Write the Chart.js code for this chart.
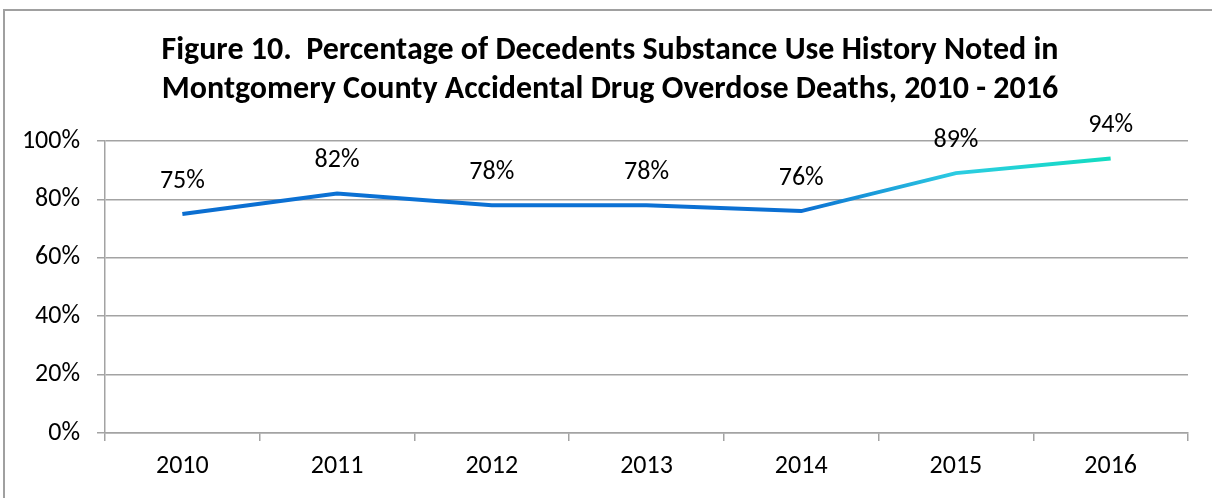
<!DOCTYPE html>
<html>
<head>
<meta charset="utf-8">
<title>Figure 10</title>
<script src="https://cdn.jsdelivr.net/npm/chart.js@4/dist/chart.umd.min.js"></script>
<style>
  html, body { margin: 0; padding: 0; background: #fff; }
  #wrap { position: relative; width: 1212px; height: 498px; overflow: hidden; }
  #frame {
    position: absolute; left: 3px; top: 9px; width: 1260px; height: 540px;
    border-top: 2px solid #a0a0a0; border-left: 2px solid #a0a0a0;
  }
  #chart { position: absolute; left: 0; top: 0; }
</style>
</head>
<body>
<div id="wrap">
  <div id="frame"></div>
  <canvas id="chart" width="1212" height="498"></canvas>
</div>
<script>
// Substance use history noted, by year
const years = ["2010", "2011", "2012", "2013", "2014", "2015", "2016"];
const pctNoted = [75, 82, 78, 78, 76, 89, 94];
const yTicks = [0, 20, 40, 60, 80, 100];

const titleLines = [
  "Figure 10.  Percentage of Decedents Substance Use History Noted in",
  "Montgomery County Accidental Drug Overdose Deaths, 2010 - 2016"
];

// line colour at each year (blue fading into teal at the end)
const lineStops = ["#0b6ed0", "#0b71d4", "#0b71d4", "#0b71d4", "#0b6fd2", "#2ccce2", "#12dcc0"];

const FONT = "Carlito, Lato, 'Open Sans', sans-serif";
const GRID = "#a3a3a3";
const LABEL_SIZE = 26;

function lineGradient(context){
  const chart = context.chart;
  const area = chart.chartArea;
  if(!area) return lineStops[0];
  const xs = chart.scales.x;
  const x0 = xs.getPixelForValue(0);
  const x1 = xs.getPixelForValue(years.length - 1);
  const g = chart.ctx.createLinearGradient(x0, 0, x1, 0);
  lineStops.forEach((c, i)=>{
    g.addColorStop((xs.getPixelForValue(i) - x0) / (x1 - x0), c);
  });
  return g;
}

// two-line title centred over the frame, not over the canvas
const frameTitle = {
  id: "frameTitle",
  beforeDraw(chart){
    const ctx = chart.ctx;
    ctx.save();
    ctx.font = "bold 32px " + FONT;
    ctx.fillStyle = "#000";
    ctx.textAlign = "center";
    ctx.textBaseline = "middle";
    titleLines.forEach((line, i)=>{
      ctx.fillText(line, 610, 51 + i * 39);
    });
    ctx.restore();
  }
};

// value labels above each point
const pointLabels = {
  id: "pointLabels",
  afterDatasetsDraw(chart){
    const ctx = chart.ctx;
    const meta = chart.getDatasetMeta(0);
    ctx.save();
    ctx.font = LABEL_SIZE + "px " + FONT;
    ctx.fillStyle = "#000";
    ctx.textAlign = "center";
    ctx.textBaseline = "middle";
    meta.data.forEach((pt, i)=>{
      ctx.fillText(pctNoted[i] + "%", pt.x, pt.y - 33);
    });
    ctx.restore();
  }
};

new Chart(document.getElementById("chart"), {
  type: "line",
  data: {
    labels: years,
    datasets: [{
      data: pctNoted,
      borderColor: lineGradient,
      borderWidth: 4,
      pointRadius: 0,
      tension: 0,
      clip: false
    }]
  },
  options: {
    responsive: false,
    animation: false,
    devicePixelRatio: 1,
    layout: { padding: { left: 0, right: 24, top: 141, bottom: 0 } },
    plugins: {
      legend: { display: false },
      tooltip: { enabled: false },
      title: { display: false }
    },
    scales: {
      x: {
        offset: true,
        grid: {
          offset: true,
          drawOnChartArea: false,
          color: GRID,
          lineWidth: 1.5,
          tickLength: 8
        },
        border: { color: GRID, width: 1.5 },
        ticks: { color: "#000", font: { family: FONT, size: LABEL_SIZE }, padding: 10 },
        afterFit(scale){ scale.height = 65; }
      },
      y: {
        min: 0,
        max: 100,
        afterBuildTicks(scale){ scale.ticks = yTicks.map(v=>({ value: v })); },
        grid: { color: GRID, lineWidth: 1.5, tickLength: 8 },
        border: { color: GRID, width: 1.5 },
        ticks: {
          color: "#000",
          font: { family: FONT, size: LABEL_SIZE },
          padding: 17,
          callback: (v)=> v + "%"
        },
        afterFit(scale){ scale.width = 105; }
      }
    }
  },
  plugins: [frameTitle, pointLabels]
});
</script>
</body>
</html>
